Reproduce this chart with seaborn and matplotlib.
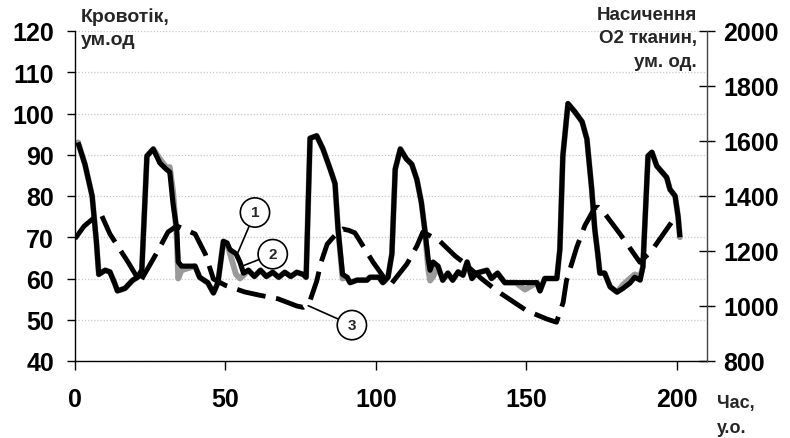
import matplotlib
matplotlib.use("Agg")
import matplotlib.pyplot as plt
import pandas as pd
import seaborn as sns

# ---- data ----
time = [1.0, 3.3, 5.7, 7.1, 7.9, 10, 11.6, 13.1, 14.1, 16.6, 19.2, 20.8, 22.2, 23.9, 26, 28.2,
        30.3, 31.5, 32.6, 33.8, 34.3, 35.4, 39.9, 41.4, 44.1, 46, 47.5, 49.3, 50.5, 51.5, 53.5,
        54.8, 56, 57.6, 59.6, 61.6, 63.6, 65.7, 67.7, 69.7, 71.7, 73.7, 75.8, 76.8, 78.1, 80.3,
        82.4, 84.8, 86.4, 87.4, 88.9, 90.4, 91.4, 93.7, 97, 98, 101, 102.3, 104, 105.3, 106.4,
        108.1, 110.1, 111.9, 113.6, 115.1, 116.2, 117.4, 118, 119, 120.6, 122.2, 123.9, 125.5,
        127.3, 128.9, 130.3, 131.9, 133.3, 136.9, 138.4, 140.4, 142.8, 146.5, 149.5, 153.5,
        154.5, 156.1, 160.1, 161.1, 162.1, 163.8, 166.1, 168.5, 170.1, 171.7, 172.7, 173.7,
        174.4, 176, 177.8, 180.1, 182.1, 184.4, 186, 187.8, 188.7, 190.4, 191.7, 193.3, 196.6,
        197.7, 199.4, 200.4, 201]
flow_1 = [93, 87.7, 80, 69, 61, 62, 61.6, 59, 57, 57.6, 59.6, 60.3, 62, 89.7, 91.4, 88,
          86.5, 85.8, 78, 72, 64, 63, 63, 60.3, 59, 56.5, 59, 69, 68.6, 67, 66,
          64, 61.3, 62, 60.5, 62, 60.5, 61.5, 60.3, 61.5, 60.5, 61.5, 61, 60.3, 94, 94.6,
          91.4, 86.5, 83, 72, 61, 60.3, 59, 59.6, 59.6, 60.3, 60.3, 59, 60.3, 66, 86.5,
          91.4, 89, 87.7, 84, 78.4, 72, 64.5, 62, 64, 63, 59.6, 61.3, 59.6,
          61.6, 60.8, 64, 60, 61.3, 62, 60, 61.3, 59, 59, 59, 59,
          57, 60, 60, 67, 89.7, 102.4, 100.4, 98, 93.8, 81.6, 72, 66,
          61.3, 61.3, 58, 56.7, 57.6, 58.9, 60.3, 59.6, 62.8, 89.7, 90.6, 87.3, 84.5,
          81.6, 80, 75, 70]
flow_2 = [93, 87.7, 80, 69, 61, 62, 61.6, 59, 57, 57.6, 59.6, 60.3, 62, 89.7, 91.4, 89,
          87, 87, 81, 70, 60, 62, 63, 60.3, 59, 56.5, 59, 69, 68.6, 66, 61,
          60, 60.8, 62, 60.5, 62, 60.5, 61.5, 60.3, 61.5, 60.5, 61.5, 61, 60.3, 94, 94.6,
          91.4, 86.5, 83, 72, 60, 60.3, 59, 59.6, 59.6, 60.3, 60.3, 59, 60.3, 66, 86.5,
          91.4, 89, 87.7, 84, 78.4, 72, 62, 59.5, 60.5, 63, 59.6, 61.3, 59.6,
          61.6, 60.8, 64, 60, 61.3, 62, 60, 61.3, 59, 59, 57.3, 59,
          57, 60, 60, 67, 89.7, 102.4, 100.4, 98, 93.8, 81.6, 72, 66,
          61.3, 61.3, 58, 56.7, 58.5, 60, 61, 60.5, 62.8, 89.7, 90.6, 87.3, 84.5,
          81.6, 80, 75, 70]
sat_time = [0, 3, 7.3, 8.5, 11.6, 17.6, 21.6, 27.3, 30.9, 33.8, 39.9, 43.3, 46, 50, 56.4, 61,
            67.5, 73.7, 75.8, 77.8, 80.3, 81.8, 83.8, 87.4, 89, 91, 93, 99, 104.6, 110.3,
            113.6, 115.6, 118, 121.2, 126.3, 128.9, 135, 140.1, 145, 150.1, 156.7, 160,
            162.2, 163.3, 166.7, 169.4, 172.8, 173.9, 176.1, 181.1, 187.7, 191.6, 198.2]
saturation = [1245, 1290, 1330, 1338, 1262, 1160, 1087, 1196, 1269, 1291, 1262, 1189, 1098, 1075,
              1051, 1040, 1026, 1000, 995, 1010, 1090, 1160, 1225, 1270, 1280, 1275, 1266, 1160,
              1074, 1153, 1218, 1269, 1255, 1236, 1182, 1160, 1100, 1056, 1020, 983, 953, 941,
              1013, 1092, 1213, 1292, 1359, 1359, 1335, 1262, 1159, 1201, 1304]
left_ticks = [40, 50, 60, 70, 80, 90, 100, 110, 120]
right_ticks = [800, 1000, 1200, 1400, 1600, 1800, 2000]
x_ticks = [0, 50, 100, 150, 200]

sns.set_theme(style="white")
plt.rcParams['font.family'] = ['Liberation Sans', 'DejaVu Sans']
plt.rcParams['font.weight'] = 'bold'

W, H = 790, 439
fig = plt.figure(figsize=(W / 100, H / 100), dpi=100)
ax = fig.add_axes([75 / W, 1 - 362 / H, (707 - 75) / W, (362 - 32) / H])

df = pd.DataFrame({"t": time, "s1": flow_1, "s2": flow_2})
sns.lineplot(data=df, x="t", y="s2", ax=ax, color="#9a9a9a", lw=4.2, sort=False,
             solid_joinstyle="round", solid_capstyle="round")
sns.lineplot(data=df, x="t", y="s1", ax=ax, color="black", lw=3.7, sort=False,
             solid_joinstyle="round", solid_capstyle="butt")
ax.set_xlim(0, 210)
ax.set_ylim(40, 120)
ax.set_yticks(left_ticks)
ax.set_xticks(x_ticks)
ax.set_xlabel("")
ax.set_ylabel("")
ax.grid(axis="y", color="#c8c8c8", ls=(0, (1, 1.5)), lw=0.9)
ax.grid(axis="x", visible=False)
ax.tick_params(axis="y", left=True, direction="out", length=6, width=1, pad=9,
               labelsize=18, colors="black")
ax.tick_params(axis="x", bottom=True, direction="out", length=6.5, width=1, pad=12,
               labelsize=18, colors="black")
for s in ["top", "right"]:
    ax.spines[s].set_visible(False)
for s in ["left", "bottom"]:
    ax.spines[s].set_color("black")
    ax.spines[s].set_linewidth(1)

ax2 = ax.twinx()
dfs = pd.DataFrame({"t": sat_time, "s3": saturation})
sns.lineplot(data=dfs, x="t", y="s3", ax=ax2, color="black", lw=3.5, sort=False)
ax2.lines[0].set_dashes((6, 2.2))
ax2.lines[0].set_dash_capstyle("butt")
ax2.set_ylim(800, 2000)
ax2.set_yticks(right_ticks)
ax2.set_ylabel("")
ax2.set_xlabel("")
ax2.tick_params(axis="y", right=True, direction="inout", length=11, width=1, pad=6,
                labelsize=18, colors="black")
for s in ["top", "left", "bottom"]:
    ax2.spines[s].set_visible(False)
ax2.spines["right"].set_color("#444444")
ax2.spines["right"].set_linewidth(1)
ax2.grid(False)

# annotations (circled series numbers)
circ = dict(boxstyle="circle,pad=0.5", fc="white", ec="black", lw=1.2)
arr = dict(arrowstyle="-", color="black", lw=1.2, shrinkA=0, shrinkB=0)
ax.annotate("1", xy=(54.2, 66.4), xytext=(59.8, 76.0), ha="center", va="center",
            fontsize=11, fontweight="bold", bbox=circ, arrowprops=arr, zorder=5)
ax.annotate("2", xy=(55.9, 63.1), xytext=(65.7, 65.9), ha="center", va="center",
            fontsize=11, fontweight="bold", bbox=circ, arrowprops=arr, zorder=5)
ax.annotate("3", xy=(77.5, 53.4), xytext=(92.0, 48.7), ha="center", va="center",
            fontsize=11, fontweight="bold", bbox=circ, arrowprops=arr, zorder=5)

# axis titles
fig.text(81 / W, 1 - 8 / H, "Кровотік,\nум.од", ha="left", va="top", fontsize=14,
         fontweight="bold", linespacing=1.45)
fig.text(697 / W, 1 - 7 / H, "Насичення\nО2 тканин,\nум. од.", ha="right", va="top",
         fontsize=13.5, fontweight="bold", linespacing=1.5, multialignment="right")
fig.text(717 / W, 1 - 395 / H, "Час,\nу.о.", ha="left", va="top", fontsize=13,
         fontweight="bold", linespacing=1.65)

fig.savefig("out.png", dpi=100)
